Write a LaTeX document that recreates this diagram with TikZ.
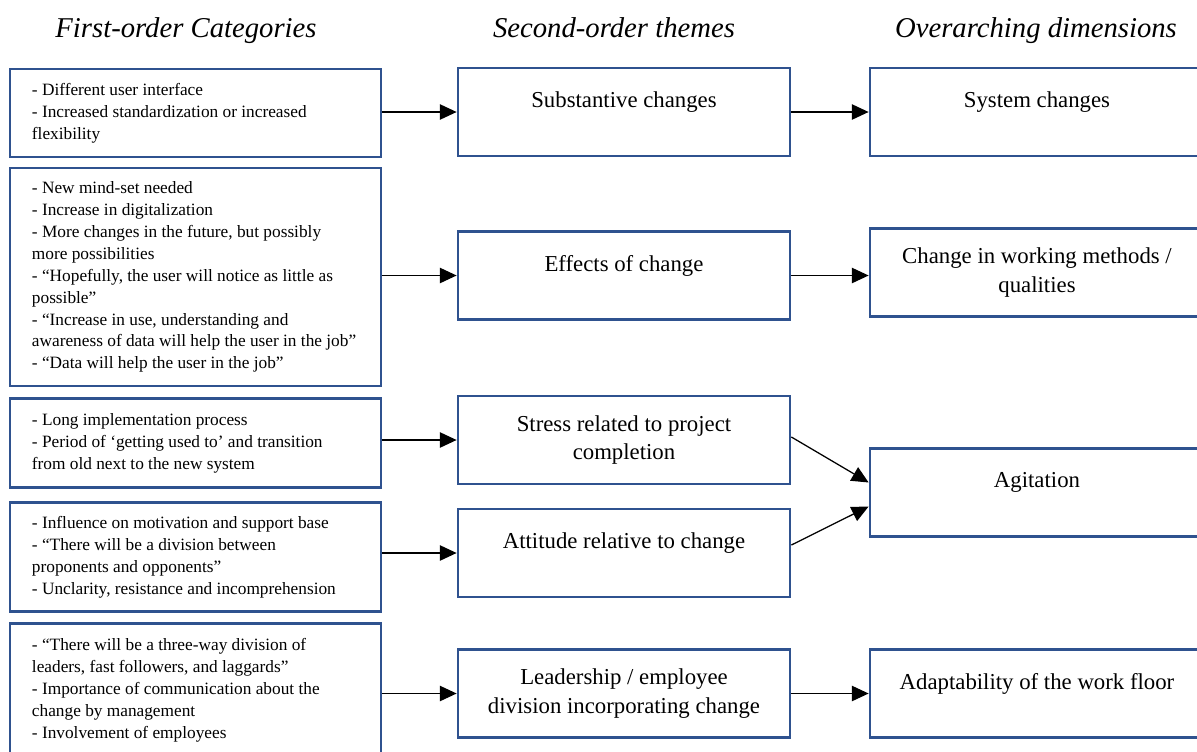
\documentclass[tikz,border=0pt]{standalone}
\usepackage{fontspec}
\setmainfont{Liberation Serif}
\usepackage{tikz}
\usetikzlibrary{arrows.meta}
\usetikzlibrary{calc}
\definecolor{boxblue}{RGB}{47,82,143}
\newcommand{\catfont}{\fontsize{12.3}{15.6}\selectfont}
\newcommand{\themefont}{\fontsize{16.2}{20.6}\selectfont}
\newcommand{\headfont}{\fontsize{20.4}{24}\selectfont\itshape}
\tikzset{box/.style={draw=boxblue, line width=1.9pt}}
\tikzset{catbox/.style={box, text width=8.175cm, inner xsep=0.55cm, align=flush left, font=\catfont}}
\tikzset{themebox/.style={box, minimum width=8.3cm, minimum height=2.2cm, align=center, font=\themefont}}
\tikzset{dimbox/.style={box, minimum width=8.35cm, minimum height=2.2cm, align=center, font=\themefont}}
\tikzset{flow/.style={-{Triangle[length=12pt, width=11pt]}, line width=0.9pt}}

\begin{document}
\begin{tikzpicture}[x=0.025cm, y=-0.025cm]
	\useasboundingbox (0,0) rectangle (1197,751);

	% Column titles
	\node[font=\headfont, anchor=base] (h1) at (186,37) {First-order Categories};
	\node[font=\headfont, anchor=base] (h2) at (614,37) {Second-order themes};
	\node[font=\headfont, anchor=base] (h3) at (1036,37) {Overarching dimensions};

	% First-order categories
	\node[catbox, minimum height=2.2cm] (c1) at (195.5,113) {- Different user interface\\- Increased standardization or increased\\flexibility};
	\node[catbox, minimum height=5.45cm] (c2) at (195.5,277) {- New mind-set needed\\- Increase in digitalization\\- More changes in the future, but possibly\\more possibilities\\- “Hopefully, the user will notice as little as\\possible”\\- “Increase in use, understanding and\\awareness~of~data~will~help~the~user~in~the~job”\\- “Data will help the user in the job”};
	\node[catbox, minimum height=2.225cm] (c3) at (195.5,443) {- Long implementation process\\- Period of ‘getting used to’ and transition\\from old next to the new system};
	\node[catbox, minimum height=2.725cm] (c4) at (195.5,557) {- Influence on motivation and support base\\- “There will be a division between\\proponents and opponents”\\- Unclarity, resistance and incomprehension};
	\node[catbox, minimum height=3.325cm] (c5) at (195.5,690) {- “There will be a three-way division of\\leaders, fast followers, and laggards”\\- Importance of communication about the\\change by management\\- Involvement of employees};

	% Second-order themes
	\node[themebox] (t1) at (624,112) {Substantive changes\\[-3pt]\mbox{}};
	\node[themebox] (t2) at (624,275.5) {Effects of change\\[-3pt]\mbox{}};
	\node[themebox] (t3) at (624,440) {Stress related to project\\completion};
	\node[themebox] (t4) at (624,553) {Attitude relative to change\\[-3pt]\mbox{}};
	\node[themebox] (t5) at (624,693.5) {Leadership / employee\\division incorporating change};

	% Overarching dimensions
	\node[dimbox] (d1) at (1037,112) {System changes\\[-3pt]\mbox{}};
	\node[dimbox] (d2) at (1037,272.5) {Change in working methods /\\qualities};
	\node[dimbox] (d3) at (1037,492.5) {Agitation\\[-3pt]\mbox{}};
	\node[dimbox] (d4) at (1037,693.5) {Adaptability of the work floor\\[-3pt]\mbox{}};

	% Categories to themes
	\draw[flow] (c1.east |- t1.west) -- (t1.west);
	\draw[flow] (c2.east |- t2.west) -- (t2.west);
	\draw[flow] (c3.east |- t3.west) -- (t3.west);
	\draw[flow] (c4.east |- t4.west) -- (t4.west);
	\draw[flow] (c5.east |- t5.west) -- (t5.west);

	% Themes to dimensions
	\draw[flow] (t1.east) -- (t1.east -| d1.west);
	\draw[flow] (t2.east) -- (t2.east -| d2.west);
	\draw[flow] ($(t3.east)+(0,-3)$) -- ($(d3.west)+(0,-10)$);
	\draw[flow] ($(t4.east)+(0,-8)$) -- ($(d3.west)+(0,14)$);
	\draw[flow] (t5.east) -- (t5.east -| d4.west);
\end{tikzpicture}
\end{document}
